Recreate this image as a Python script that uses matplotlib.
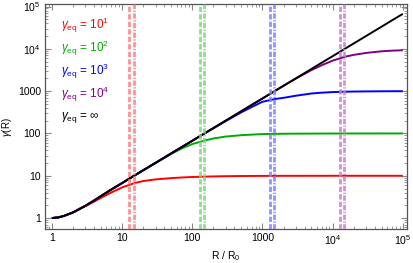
import numpy as np
import matplotlib
matplotlib.use('Agg')
import matplotlib.pyplot as plt
from matplotlib.ticker import FixedLocator, NullFormatter, LogLocator

plt.rcParams['font.family'] = ['Liberation Sans', 'DejaVu Sans']
plt.rcParams['mathtext.fontset'] = 'custom'
plt.rcParams['mathtext.rm'] = 'Liberation Sans'
plt.rcParams['mathtext.it'] = 'Liberation Sans:italic'
plt.rcParams['lines.scale_dashes'] = False

R = [1, 1.25, 1.5, 2, 3, 4, 5, 7, 10, 15, 20, 30, 50, 70, 100, 150, 200, 300,
     500, 700, 1e3, 1.5e3, 2e3, 3e3, 5e3, 7e3, 1e4, 1.5e4, 2e4, 3e4, 5e4, 7e4, 1e5]

gamma_inf = [1, 1.04, 1.13, 1.36, 1.95, 2.6, 3.3, 4.7, 6.7, 10.1, 13.5, 20.2, 33.7,
             47, 67, 101, 134, 201, 335, 470, 670, 1005, 1340, 2010, 3350, 4700,
             6700, 10050, 13400, 20100, 33500, 47000, 67000]
gamma_1e1 = [1, 1.04, 1.13, 1.35, 1.9, 2.45, 3.0, 4.0, 5.3, 6.7, 7.5, 8.2, 8.8,
             9.1, 9.35, 9.55, 9.65, 9.77, 9.86, 9.9, 9.93, 9.95, 9.97, 9.98, 9.99,
             9.99, 10, 10, 10, 10, 10, 10, 10]
gamma_1e2 = [1, 1.04, 1.13, 1.36, 1.95, 2.6, 3.3, 4.7, 6.7, 10.1, 13.4, 19.8, 32.5,
             44, 56, 68, 76, 84.5, 91, 93.8, 96.5, 97.8, 98.4, 98.9, 99.3, 99.5,
             99.7, 99.8, 99.85, 99.9, 99.95, 100, 100]
gamma_1e3 = [1, 1.04, 1.13, 1.36, 1.95, 2.6, 3.3, 4.7, 6.7, 10.1, 13.5, 20.2, 33.7,
             47, 67, 100, 132, 196, 315, 420, 560, 650, 695, 780, 880, 920, 950,
             970, 978, 986, 992, 995, 997]
gamma_1e4 = [1, 1.04, 1.13, 1.36, 1.95, 2.6, 3.3, 4.7, 6.7, 10.1, 13.5, 20.2, 33.7,
             47, 67, 101, 134, 201, 335, 470, 670, 1005, 1340, 1980, 3150, 4100,
             5250, 6500, 7200, 8000, 8750, 9050, 9250]

vline_dash = [12.6, 128, 1275, 12600]
vline_dot = [14.6, 148, 1468, 14600]

labels = [r'$\gamma_\mathrm{eq}$ = 10$^1$', r'$\gamma_\mathrm{eq}$ = 10$^2$',
          r'$\gamma_\mathrm{eq}$ = 10$^3$', r'$\gamma_\mathrm{eq}$ = 10$^4$',
          r'$\gamma_\mathrm{eq}$ = $\infty$']
colors = ['#ff0000', '#00aa00', '#0000ff', '#800080', '#000000']
light = ['#ff8080', '#80d480', '#8080ff', '#c880c8']

xticks = [1, 10, 100, 1000, 1e4, 1e5]
xticklabels = ['1', '10', '100', '1000', r'$\mathregular{10^4}$', r'$\mathregular{10^5}$']
yticks = [1, 10, 100, 1000, 1e4, 1e5]
yticklabels = ['1', '10', '100', '1000', r'$\mathregular{10^4}$', r'$\mathregular{10^5}$']

# ------------------------------------ plot ------------------------------------ #
fig = plt.figure(figsize=(4.13, 2.63), dpi=100)
ax = fig.add_axes([0.109, 0.129, 0.876, 0.856])

series = [gamma_1e1, gamma_1e2, gamma_1e3, gamma_1e4, gamma_inf]
for g, c in zip(series, colors):
    ax.plot(R, g, color=c, lw=1.4, solid_capstyle='butt', zorder=3)

for xa, xb, c in zip(vline_dash, vline_dot, light):
    ax.axvline(xa, color=c, lw=2.0, dashes=(3.8, 1.6), alpha=0.85, zorder=4)
    ax.axvline(xb, color=c, lw=2.0, dashes=(3.8, 1.1, 0.9, 1.1), alpha=0.85, zorder=4)

ax.set_xscale('log')
ax.set_yscale('log')
ax.set_xlim(0.8, 1.14e5)
ax.set_ylim(0.55, 1.15e5)

ax.xaxis.set_major_locator(FixedLocator(xticks))
ax.yaxis.set_major_locator(FixedLocator(yticks))
ax.set_xticklabels(xticklabels)
ax.set_yticklabels(yticklabels)
ax.xaxis.set_minor_locator(LogLocator(base=10, subs=np.arange(2, 10), numticks=20))
ax.yaxis.set_minor_locator(LogLocator(base=10, subs=np.arange(2, 10), numticks=20))
ax.xaxis.set_minor_formatter(NullFormatter())
ax.yaxis.set_minor_formatter(NullFormatter())

ax.tick_params(which='both', direction='in', top=True, right=True,
               color='#888888', labelsize=7.5, pad=3)
ax.tick_params(which='major', length=4, width=0.8)
ax.tick_params(which='minor', length=2, width=0.6)
for s in ax.spines.values():
    s.set_color('#555555')
    s.set_linewidth(0.9)

ax.set_xlabel(r'R / R$_0$', fontsize=7.5, labelpad=1.5)
ax.set_ylabel(r'$\gamma$(R)', fontsize=7, va='center')
ax.yaxis.set_label_coords(-0.106, 0.453)

for i, (lab, c) in enumerate(zip(labels, colors)):
    ax.text(0.045, 0.905 - i * 0.102, lab, color=c, fontsize=8.5,
            transform=ax.transAxes, va='center', ha='left')

plt.savefig('out.png', dpi=100)
plt.close('all')
